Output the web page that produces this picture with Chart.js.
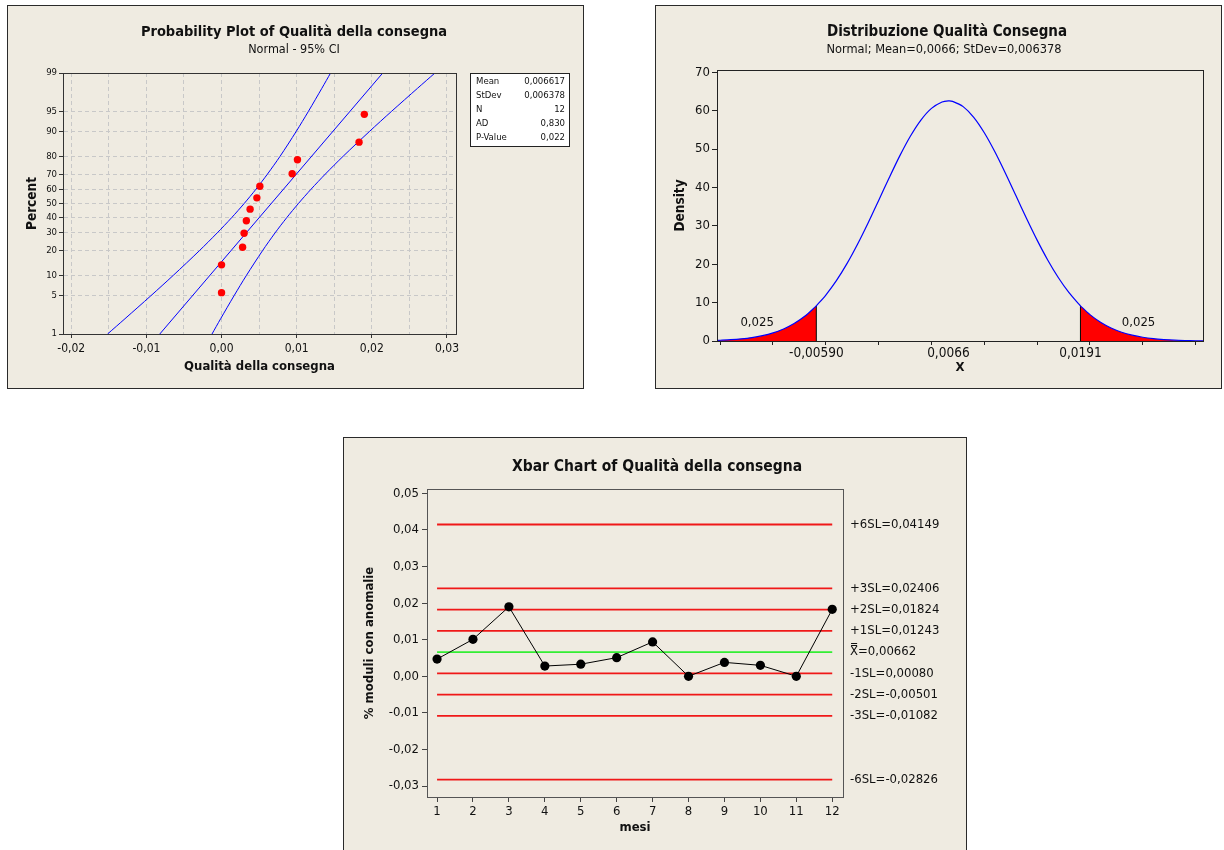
<!DOCTYPE html>
<html><head><meta charset="utf-8">
<script src="https://cdn.jsdelivr.net/npm/chart.js@4.4.1/dist/chart.umd.min.js"></script>
<style>
html,body{margin:0;padding:0;background:#fff;width:1224px;height:850px;overflow:hidden;}
.panel{position:absolute;box-sizing:border-box;background:#efebe1;border:1px solid #2a2a2a;}
canvas{position:absolute;}
</style></head><body>
<div class="panel" style="left:7px;top:5px;width:577px;height:384px"></div>
<canvas id="c1" width="577" height="384" style="left:7px;top:5px"></canvas>
<div class="panel" style="left:655px;top:5px;width:567px;height:384px"></div>
<canvas id="c2" width="567" height="384" style="left:655px;top:5px"></canvas>
<div class="panel" style="left:343px;top:437px;width:624px;height:420px"></div>
<canvas id="c3" width="624" height="420" style="left:343px;top:437px"></canvas>
<script>
// ---------- DATA: Probability plot ----------
const PP_PTS_X   = [0.0000, 0.0000, 0.0028, 0.0030, 0.0033, 0.0038, 0.0047, 0.0051, 0.0094, 0.0101, 0.0183, 0.0190];
const PP_PTS_PCT = [5.6, 13.7, 21.8, 29.8, 37.9, 46.0, 54.0, 62.1, 70.2, 78.2, 86.3, 94.4];
const PP_FIT_PCT = [1, 99];
const PP_FIT_X   = [-0.00822, 0.02145];
const PP_CI_PCT  = [1, 2, 5, 10, 20, 30, 40, 50, 60, 70, 80, 90, 95, 98, 99];
const PP_CI_LEFT = [-0.01517, -0.01285, -0.00941, -0.00643, -0.00295, -0.00058, 0.00134, 0.00301, 0.00457, 0.00611, 0.00779, 0.00992, 0.01157, 0.01335, 0.01451];
const PP_CI_RIGHT= [-0.00127, -0.00012, 0.00166, 0.00331, 0.00545, 0.00712, 0.00867, 0.01023, 0.01190, 0.01381, 0.01618, 0.01966, 0.02264, 0.02608, 0.02840];
const PP_Y_TICKS = [1, 5, 10, 20, 30, 40, 50, 60, 70, 80, 90, 95, 99];
const PP_X_MAJOR = [-0.02, -0.01, 0.00, 0.01, 0.02, 0.03];
const PP_X_MAJOR_LABELS = ['-0,02', '-0,01', '0,00', '0,01', '0,02', '0,03'];
const PP_X_MINOR = [-0.015, -0.005, 0.005, 0.015, 0.025];
const PP_STATS_NAMES  = ['Mean', 'StDev', 'N', 'AD', 'P-Value'];
const PP_STATS_VALUES = ['0,006617', '0,006378', '12', '0,830', '0,022'];

// ---------- DATA: Distribution ----------
const DIST_X = [-0.0153, -0.015, -0.014, -0.013, -0.012, -0.011, -0.010, -0.009, -0.008, -0.007, -0.006, -0.0059,
  -0.005, -0.004, -0.003, -0.002, -0.001, 0.000, 0.001, 0.002, 0.003, 0.004, 0.005, 0.006, 0.0066, 0.007, 0.008,
  0.009, 0.010, 0.011, 0.012, 0.013, 0.014, 0.015, 0.016, 0.017, 0.018, 0.019, 0.0191, 0.020, 0.021, 0.022, 0.023,
  0.024, 0.025, 0.026, 0.027, 0.028, 0.029, 0.030, 0.0307];
const DIST_Y = [0.17, 0.20, 0.34, 0.56, 0.89, 1.39, 2.11, 3.14, 4.55, 6.44, 8.88, 9.16,
  11.97, 15.72, 20.15, 25.21, 30.75, 36.62, 42.54, 48.23, 53.34, 57.56, 60.61, 62.27, 62.55, 62.43, 61.06,
  58.28, 54.26, 49.30, 43.71, 37.81, 31.91, 26.28, 21.12, 16.55, 12.66, 9.45, 9.16, 6.88, 4.89, 3.39, 2.29,
  1.51, 0.97, 0.61, 0.38, 0.22, 0.13, 0.07, 0.05];
const DIST_LOWER_CUT = -0.0059;
const DIST_UPPER_CUT = 0.0191;
const DIST_TAIL_AREA = ['0,025', '0,025'];
const DIST_X_TICKS = [-0.015, -0.010, -0.005, 0.000, 0.005, 0.010, 0.015, 0.020, 0.025, 0.030];
const DIST_X_LABEL_VALUES = [-0.0059, 0.0066, 0.0191];
const DIST_X_LABELS = ['-0,00590', '0,0066', '0,0191'];
const DIST_Y_TICKS = [0, 10, 20, 30, 40, 50, 60, 70];

// ---------- DATA: Xbar chart ----------
const XB_MONTHS = [1, 2, 3, 4, 5, 6, 7, 8, 9, 10, 11, 12];
const XB_VALUES = [0.0047, 0.0101, 0.0190, 0.0028, 0.0033, 0.0051, 0.0094, 0.0000, 0.0038, 0.0030, 0.0000, 0.0183];
const XB_CENTER = 0.00662;
const XB_CENTER_LABEL = 'X\u033F=0,00662';
const XB_LIMITS = [0.04149, 0.02406, 0.01824, 0.01243, 0.00080, -0.00501, -0.01082, -0.02826];
const XB_LIMIT_LABELS = ['+6SL=0,04149', '+3SL=0,02406', '+2SL=0,01824', '+1SL=0,01243', '-1SL=0,00080', '-2SL=-0,00501', '-3SL=-0,01082', '-6SL=-0,02826'];
const XB_Y_TICKS = [0.05, 0.04, 0.03, 0.02, 0.01, 0.00, -0.01, -0.02, -0.03];
const XB_Y_LABELS = ['0,05', '0,04', '0,03', '0,02', '0,01', '0,00', '-0,01', '-0,02', '-0,03'];

// ---------- helpers ----------
function probit(p){
  const a=[-3.969683028665376e+01,2.209460984245205e+02,-2.759285104469687e+02,1.383577518672690e+02,-3.066479806614716e+01,2.506628277459239e+00];
  const b=[-5.447609879822406e+01,1.615858368580409e+02,-1.556989798598866e+02,6.680131188771972e+01,-1.328068155288572e+01];
  const c=[-7.784894002430293e-03,-3.223964580411365e-01,-2.400758277161838e+00,-2.549732539343734e+00,4.374664141464968e+00,2.938163982698783e+00];
  const d=[7.784695709041462e-03,3.224671290700398e-01,2.445134137142996e+00,3.754408661907416e+00];
  const pl=0.02425, ph=1-pl; let q,r;
  if(p<pl){q=Math.sqrt(-2*Math.log(p));return (((((c[0]*q+c[1])*q+c[2])*q+c[3])*q+c[4])*q+c[5])/((((d[0]*q+d[1])*q+d[2])*q+d[3])*q+1);}
  if(p<=ph){q=p-0.5;r=q*q;return (((((a[0]*r+a[1])*r+a[2])*r+a[3])*r+a[4])*r+a[5])*q/(((((b[0]*r+b[1])*r+b[2])*r+b[3])*r+b[4])*r+1);}
  q=Math.sqrt(-2*Math.log(1-p));return -(((((c[0]*q+c[1])*q+c[2])*q+c[3])*q+c[4])*q+c[5])/((((d[0]*q+d[1])*q+d[2])*q+d[3])*q+1);
}
const near=(a,b)=>Math.abs(a-b)<1e-9;
const FONT = "'DejaVu Sans Condensed','DejaVu Sans',sans-serif";
Chart.defaults.font.family = FONT;
Chart.defaults.color = '#111';
Chart.defaults.animation = false;
Chart.defaults.events = [];
Chart.defaults.plugins.legend.display = false;
Chart.defaults.plugins.tooltip.enabled = false;

const textPlugin = {
  id:'texts',
  afterDraw(chart, args, opts){
    const ctx = chart.ctx;
    (opts.items||[]).forEach(it=>{
      const x = typeof it.x==='function'?it.x(chart):it.x;
      const y = typeof it.y==='function'?it.y(chart):it.y;
      ctx.save();
      ctx.font = it.font; ctx.fillStyle = it.color||'#111';
      ctx.textAlign = it.align||'center'; ctx.textBaseline = 'middle';
      ctx.translate(x,y); if(it.rotate) ctx.rotate(it.rotate);
      ctx.fillText(it.text,0,0); ctx.restore();
    });
  }
};
const framePlugin = {
  id:'frame',
  afterDatasetsDraw(chart, args, opts){
    const {left,top,right,bottom}=chart.chartArea, ctx=chart.ctx;
    ctx.save(); ctx.strokeStyle=opts.color||'#333'; ctx.lineWidth=1;
    ctx.strokeRect(Math.round(left)+0.5, Math.round(top)+0.5, Math.round(right-left), Math.round(bottom-top));
    ctx.restore();
  }
};
const statsPlugin = {
  id:'stats',
  afterDraw(chart, args, opts){
    if(!opts.box) return;
    const ctx=chart.ctx, b=opts.box;
    ctx.save();
    ctx.fillStyle='#fff'; ctx.fillRect(b.x,b.y,b.w,b.h);
    ctx.strokeStyle='#222'; ctx.lineWidth=1; ctx.strokeRect(b.x+0.5,b.y+0.5,b.w,b.h);
    ctx.font='9.5px '+FONT; ctx.fillStyle='#111'; ctx.textBaseline='middle';
    PP_STATS_NAMES.forEach((n,i)=>{
      const y=b.y+9+i*14;
      ctx.textAlign='left'; ctx.fillText(n,b.x+6,y);
      ctx.textAlign='right'; ctx.fillText(PP_STATS_VALUES[i],b.x+b.w-4,y);
    });
    ctx.restore();
  }
};

// ---------- Chart 1: probability plot ----------
const ppXTicks = PP_X_MAJOR.concat(PP_X_MINOR).sort((a,b)=>a-b);
new Chart(document.getElementById('c1'), {
  type:'scatter',
  data:{datasets:[
    {data:PP_PTS_X.map((x,i)=>({x,y:probit(PP_PTS_PCT[i]/100)})), pointRadius:3.7, pointBackgroundColor:'#ff0000', pointBorderWidth:0, showLine:false},
    {data:PP_FIT_X.map((x,i)=>({x,y:probit(PP_FIT_PCT[i]/100)})), showLine:true, borderColor:'#0000ff', borderWidth:1, pointRadius:0},
    {data:PP_CI_LEFT.map((x,i)=>({x,y:probit(PP_CI_PCT[i]/100)})), showLine:true, borderColor:'#0000ff', borderWidth:1, pointRadius:0, tension:0.3},
    {data:PP_CI_RIGHT.map((x,i)=>({x,y:probit(PP_CI_PCT[i]/100)})), showLine:true, borderColor:'#0000ff', borderWidth:1, pointRadius:0, tension:0.3}
  ]},
  options:{
    responsive:false,
    layout:{padding:{left:36,top:68,right:128,bottom:30}},
    scales:{
      x:{type:'linear', min:-0.0211, max:0.0312,
        afterBuildTicks(s){ s.ticks = ppXTicks.map(v=>({value:v})); },
        afterFit(s){ s.height = 25; },
        ticks:{autoSkip:false, maxRotation:0, padding:4, font:{size:12},
          callback:(v)=>{ const i=PP_X_MAJOR.findIndex(m=>near(m,v)); return i<0?'':PP_X_MAJOR_LABELS[i]; }},
        grid:{color:'#c8c8c8', tickLength:4, tickColor:(c)=>PP_X_MAJOR.some(m=>near(m,c.tick.value))?'#333':'rgba(0,0,0,0)'},
        border:{dash:[4,3], color:'#333'}
      },
      y:{type:'linear', min:probit(0.01), max:probit(0.99),
        afterBuildTicks(s){ s.ticks = PP_Y_TICKS.map(p=>({value:probit(p/100)})); },
        afterFit(s){ s.width = 20; },
        ticks:{autoSkip:false, padding:2, font:{size:9.5}, callback:(v,i)=>String(PP_Y_TICKS[i])},
        grid:{color:'#c8c8c8', tickLength:4, tickColor:'#333'},
        border:{dash:[4,3], color:'#333'}
      }
    },
    plugins:{
      frame:{color:'#333'},
      stats:{box:{x:463,y:68,w:99,h:73}},
      texts:{items:[
        {text:'Probability Plot of Qualità della consegna', x:287, y:27, font:'bold 14.5px '+FONT},
        {text:'Normal - 95% CI', x:287, y:45, font:'12.5px '+FONT},
        {text:'Qualità della consegna', x:c=>(c.chartArea.left+c.chartArea.right)/2, y:362, font:'bold 13px '+FONT},
        {text:'Percent', x:25, y:c=>(c.chartArea.top+c.chartArea.bottom)/2, font:'bold 13.5px '+FONT, rotate:-Math.PI/2}
      ]}
    }
  },
  plugins:[textPlugin, framePlugin, statsPlugin]
});

// ---------- Chart 2: distribution ----------
const distPts = DIST_X.map((x,i)=>({x,y:DIST_Y[i]}));
const lowerTail = distPts.filter(p=>p.x<=DIST_LOWER_CUT+1e-12);
const upperTail = distPts.filter(p=>p.x>=DIST_UPPER_CUT-1e-12);
const yAt = (x)=>DIST_Y[DIST_X.findIndex(v=>near(v,x))];
const distXTicks = DIST_X_TICKS.concat(DIST_X_LABEL_VALUES).sort((a,b)=>a-b);
new Chart(document.getElementById('c2'), {
  type:'scatter',
  data:{datasets:[
    {data:distPts, showLine:true, borderColor:'#0000ff', borderWidth:1.2, pointRadius:0, tension:0.3},
    {data:[{x:DIST_LOWER_CUT,y:0},{x:DIST_LOWER_CUT,y:yAt(DIST_LOWER_CUT)}], showLine:true, borderColor:'#000', borderWidth:1, pointRadius:0},
    {data:[{x:DIST_UPPER_CUT,y:0},{x:DIST_UPPER_CUT,y:yAt(DIST_UPPER_CUT)}], showLine:true, borderColor:'#000', borderWidth:1, pointRadius:0},
    {data:lowerTail, showLine:true, borderWidth:0, borderColor:'rgba(0,0,0,0)', backgroundColor:'#ff0000', fill:'origin', pointRadius:0, tension:0.3},
    {data:upperTail, showLine:true, borderWidth:0, borderColor:'rgba(0,0,0,0)', backgroundColor:'#ff0000', fill:'origin', pointRadius:0, tension:0.3}
  ]},
  options:{
    responsive:false,
    layout:{padding:{left:32,top:65,right:19,bottom:23}},
    scales:{
      x:{type:'linear', min:-0.0153, max:0.0307,
        afterBuildTicks(s){ s.ticks = distXTicks.map(v=>({value:v})); },
        afterFit(s){ s.height = 25; },
        ticks:{autoSkip:false, maxRotation:0, padding:0, font:{size:13.5},
          callback:(v)=>{ const i=DIST_X_LABEL_VALUES.findIndex(m=>near(m,v)); return i<0?'':DIST_X_LABELS[i]; }},
        grid:{drawOnChartArea:false, tickLength:4, color:'#222', tickColor:(c)=>DIST_X_LABEL_VALUES.some(m=>near(m,c.tick.value))?'rgba(0,0,0,0)':'#222'},
        border:{color:'#222'}
      },
      y:{type:'linear', min:0, max:70.6,
        afterBuildTicks(s){ s.ticks = DIST_Y_TICKS.map(v=>({value:v})); },
        afterFit(s){ s.width = 30; },
        ticks:{autoSkip:false, padding:2, font:{size:13}, callback:(v,i)=>String(DIST_Y_TICKS[i])},
        grid:{drawOnChartArea:false, tickLength:5, color:'#222'},
        border:{color:'#222'}
      }
    },
    plugins:{
      frame:{color:'#222'},
      texts:{items:[
        {text:'Distribuzione Qualità Consegna', x:292, y:27, font:'bold 15px '+FONT},
        {text:'Normal; Mean=0,0066; StDev=0,006378', x:289, y:45, font:'12.7px '+FONT},
        {text:'X', x:c=>(c.chartArea.left+c.chartArea.right)/2, y:363, font:'bold 13px '+FONT},
        {text:'Density', x:25, y:c=>(c.chartArea.top+c.chartArea.bottom)/2, font:'bold 13.5px '+FONT, rotate:-Math.PI/2},
        {text:DIST_TAIL_AREA[0], x:c=>c.scales.x.getPixelForValue(-0.0115), y:c=>c.scales.y.getPixelForValue(4.7), font:'13px '+FONT},
        {text:DIST_TAIL_AREA[1], x:c=>c.scales.x.getPixelForValue(0.0246), y:c=>c.scales.y.getPixelForValue(4.7), font:'13px '+FONT}
      ]}
    }
  },
  plugins:[textPlugin, framePlugin]
});

// ---------- Chart 3: Xbar chart ----------
const first = XB_MONTHS[0], last = XB_MONTHS[XB_MONTHS.length-1];
const limitSets = XB_LIMITS.map(v=>({data:[{x:first,y:v},{x:last,y:v}], showLine:true, borderColor:'#f01818', borderWidth:1.8, pointRadius:0}));
const limitTexts = XB_LIMITS.map((v,i)=>({text:XB_LIMIT_LABELS[i], x:c=>c.chartArea.right+7, y:c=>c.scales.y.getPixelForValue(v), font:'13px '+FONT, align:'left'}));
limitTexts.push({text:XB_CENTER_LABEL, x:c=>c.chartArea.right+7, y:c=>c.scales.y.getPixelForValue(XB_CENTER), font:'13px '+FONT, align:'left'});
new Chart(document.getElementById('c3'), {
  type:'scatter',
  data:{datasets:[
    {data:XB_MONTHS.map((m,i)=>({x:m,y:XB_VALUES[i]})), showLine:true, borderColor:'#000', borderWidth:1, pointRadius:4.6, pointBackgroundColor:'#000', pointBorderWidth:0},
    {data:[{x:first,y:XB_CENTER},{x:last,y:XB_CENTER}], showLine:true, borderColor:'#33ee33', borderWidth:1.8, pointRadius:0}
  ].concat(limitSets)},
  options:{
    responsive:false,
    layout:{padding:{left:34,top:52,right:124,bottom:35}},
    scales:{
      x:{type:'linear', min:0.72, max:12.3,
        afterBuildTicks(s){ s.ticks = XB_MONTHS.map(v=>({value:v})); },
        afterFit(s){ s.height = 25; },
        ticks:{autoSkip:false, maxRotation:0, padding:2, font:{size:13}, callback:(v,i)=>String(XB_MONTHS[i])},
        grid:{drawOnChartArea:false, tickLength:5, color:'#444'},
        border:{color:'#444'}
      },
      y:{type:'linear', min:-0.033, max:0.0512,
        afterBuildTicks(s){ s.ticks = XB_Y_TICKS.slice().reverse().map(v=>({value:v})); },
        afterFit(s){ s.width = 50; },
        ticks:{autoSkip:false, padding:3, font:{size:13}, callback:(v)=>{const i=XB_Y_TICKS.findIndex(m=>near(m,v)); return XB_Y_LABELS[i];}},
        grid:{drawOnChartArea:false, tickLength:5, color:'#444'},
        border:{color:'#444'}
      }
    },
    plugins:{
      frame:{color:'#555'},
      texts:{items:[
        {text:'Xbar Chart of Qualità della consegna', x:314, y:30, font:'bold 15.5px '+FONT},
        {text:'mesi', x:c=>(c.chartArea.left+c.chartArea.right)/2, y:391, font:'bold 13px '+FONT},
        {text:'% moduli con anomalie', x:27, y:c=>(c.chartArea.top+c.chartArea.bottom)/2, font:'bold 13px '+FONT, rotate:-Math.PI/2}
      ].concat(limitTexts)}
    }
  },
  plugins:[textPlugin, framePlugin]
});
</script>
</body></html>
